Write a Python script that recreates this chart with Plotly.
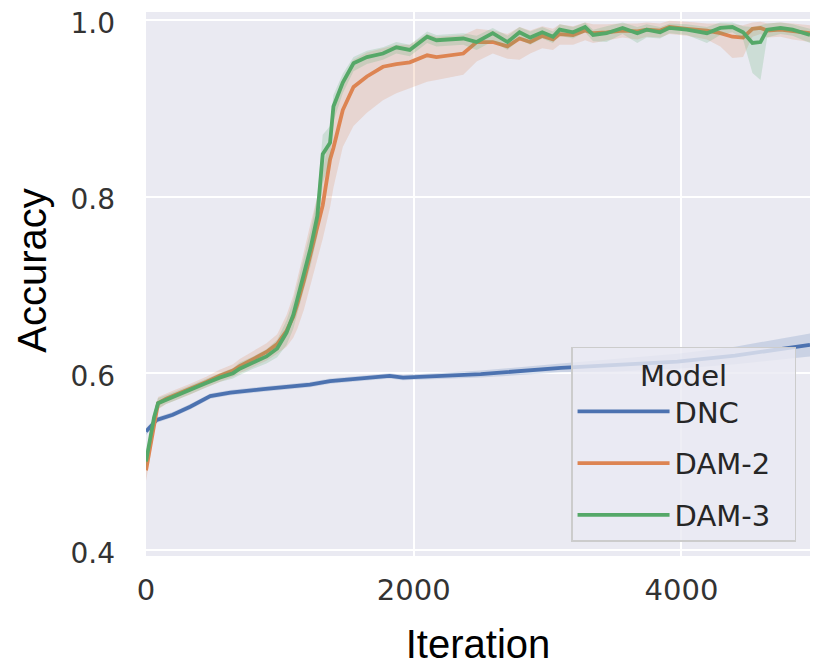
import plotly.graph_objects as go

# DNC
dnc_iter = [0, 80, 200, 330, 480, 630, 875, 1225, 1375, 1750, 1820, 1920, 2500, 3100, 3500, 3970, 4400, 4830, 4960]
dnc_acc = [0.534, 0.547, 0.553, 0.562, 0.574, 0.578, 0.582, 0.587, 0.591, 0.596, 0.597, 0.595, 0.599, 0.606, 0.609, 0.613, 0.620, 0.629, 0.632]
dnc_lo = [0.530, 0.544, 0.550, 0.559, 0.571, 0.575, 0.579, 0.584, 0.588, 0.593, 0.594, 0.592, 0.595, 0.601, 0.602, 0.605, 0.610, 0.617, 0.619]
dnc_hi = [0.538, 0.550, 0.556, 0.565, 0.577, 0.581, 0.585, 0.590, 0.594, 0.599, 0.600, 0.598, 0.603, 0.611, 0.616, 0.622, 0.630, 0.641, 0.645]

# DAM-2 / DAM-3 share the iteration grid
dam_iter = [0, 30, 60, 90, 150, 200, 330, 450, 550, 650,
            700, 800, 900, 980, 1050, 1100, 1130, 1180, 1230, 1280,
            1320, 1375, 1400, 1470, 1550, 1650, 1770, 1870, 1970, 2100,
            2170, 2370, 2470, 2590, 2700, 2790, 2870, 2960, 3040, 3090,
            3190, 3280, 3340, 3440, 3560, 3670, 3740, 3840, 3910, 4040,
            4190, 4290, 4380, 4460, 4530, 4590, 4640, 4740, 4830, 4960]

dam2_acc = [0.490, 0.515, 0.545, 0.566, 0.571, 0.574, 0.582, 0.590, 0.597, 0.603,
            0.608, 0.616, 0.624, 0.633, 0.648, 0.664, 0.678, 0.705, 0.735, 0.765,
            0.790, 0.842, 0.855, 0.898, 0.924, 0.936, 0.947, 0.950, 0.952, 0.960,
            0.958, 0.962, 0.975, 0.975, 0.970, 0.979, 0.975, 0.982, 0.978, 0.984,
            0.983, 0.988, 0.985, 0.986, 0.988, 0.987, 0.989, 0.988, 0.992, 0.990,
            0.988, 0.985, 0.981, 0.980, 0.990, 0.991, 0.988, 0.989, 0.987, 0.985]
dam2_lo = [0.478, 0.503, 0.535, 0.559, 0.565, 0.568, 0.576, 0.584, 0.590, 0.596,
           0.600, 0.607, 0.614, 0.622, 0.630, 0.640, 0.650, 0.672, 0.700, 0.730,
           0.752, 0.788, 0.810, 0.856, 0.880, 0.895, 0.909, 0.917, 0.923, 0.930,
           0.932, 0.938, 0.953, 0.962, 0.956, 0.955, 0.962, 0.968, 0.966, 0.972,
           0.972, 0.977, 0.974, 0.977, 0.980, 0.978, 0.981, 0.980, 0.984, 0.982,
           0.978, 0.970, 0.957, 0.958, 0.981, 0.984, 0.980, 0.981, 0.978, 0.975]
dam2_hi = [0.500, 0.527, 0.555, 0.573, 0.577, 0.580, 0.588, 0.596, 0.604, 0.610,
           0.616, 0.625, 0.634, 0.644, 0.666, 0.688, 0.706, 0.738, 0.770, 0.800,
           0.828, 0.872, 0.895, 0.930, 0.955, 0.963, 0.968, 0.972, 0.972, 0.984,
           0.981, 0.983, 0.990, 0.988, 0.984, 0.992, 0.988, 0.993, 0.990, 0.995,
           0.993, 0.997, 0.995, 0.995, 0.996, 0.996, 0.997, 0.996, 0.999, 0.998,
           0.996, 0.996, 0.995, 0.994, 0.997, 0.998, 0.996, 0.997, 0.996, 0.994]

dam3_acc = [0.500, 0.525, 0.550, 0.566, 0.570, 0.573, 0.581, 0.589, 0.595, 0.600,
            0.605, 0.612, 0.619, 0.628, 0.646, 0.666, 0.684, 0.712, 0.742, 0.778,
            0.848, 0.861, 0.902, 0.929, 0.951, 0.958, 0.962, 0.969, 0.966, 0.981,
            0.977, 0.979, 0.975, 0.985, 0.975, 0.986, 0.980, 0.986, 0.981, 0.989,
            0.986, 0.992, 0.983, 0.985, 0.991, 0.985, 0.989, 0.986, 0.991, 0.989,
            0.985, 0.991, 0.992, 0.986, 0.974, 0.975, 0.989, 0.991, 0.989, 0.983]
dam3_lo = [0.490, 0.515, 0.542, 0.560, 0.565, 0.568, 0.576, 0.584, 0.590, 0.594,
           0.598, 0.605, 0.611, 0.618, 0.632, 0.650, 0.668, 0.695, 0.722, 0.755,
           0.815, 0.840, 0.885, 0.917, 0.942, 0.950, 0.955, 0.962, 0.959, 0.974,
           0.970, 0.972, 0.966, 0.976, 0.966, 0.978, 0.972, 0.979, 0.974, 0.982,
           0.979, 0.986, 0.976, 0.975, 0.984, 0.974, 0.980, 0.979, 0.985, 0.983,
           0.974, 0.983, 0.986, 0.978, 0.940, 0.932, 0.980, 0.984, 0.982, 0.974]
dam3_hi = [0.510, 0.535, 0.557, 0.572, 0.575, 0.578, 0.586, 0.594, 0.600, 0.606,
           0.612, 0.619, 0.627, 0.638, 0.660, 0.682, 0.700, 0.729, 0.762, 0.800,
           0.870, 0.880, 0.915, 0.939, 0.958, 0.965, 0.969, 0.975, 0.972, 0.987,
           0.983, 0.985, 0.982, 0.991, 0.982, 0.992, 0.987, 0.992, 0.987, 0.995,
           0.992, 0.997, 0.989, 0.993, 0.997, 0.992, 0.995, 0.992, 0.996, 0.995,
           0.992, 0.997, 0.997, 0.993, 0.992, 0.994, 0.996, 0.997, 0.995, 0.990]

x_ticks = [0, 2000, 4000]
y_ticks = [0.4, 0.6, 0.8, 1.0]

models = [
    ('DNC', dnc_iter, dnc_acc, dnc_lo, dnc_hi, '#4C72B0', 'rgba(76,114,176,0.2)'),
    ('DAM-2', dam_iter, dam2_acc, dam2_lo, dam2_hi, '#DD8452', 'rgba(221,132,82,0.2)'),
    ('DAM-3', dam_iter, dam3_acc, dam3_lo, dam3_hi, '#55A868', 'rgba(85,168,104,0.2)'),
]

fig = go.Figure()
for name, xs, mean, lo, hi, col, band in models:
    fig.add_trace(go.Scatter(x=xs, y=lo, mode='lines', line=dict(width=0),
                             showlegend=False, hoverinfo='skip'))
    fig.add_trace(go.Scatter(x=xs, y=hi, mode='lines', line=dict(width=0),
                             fill='tonexty', fillcolor=band,
                             showlegend=False, hoverinfo='skip'))
    # trailing spaces give the legend box its right padding
    fig.add_trace(go.Scatter(x=xs, y=mean, mode='lines', name=name + '\u00a0\u00a0',
                             legendgroup=name, line=dict(color=col, width=3.8)))

tick_font = dict(family='DejaVu Sans', size=29, color='#333333')
fig.update_xaxes(range=[0, 4960], tickvals=x_ticks, ticktext=[str(v) for v in x_ticks],
                 showgrid=True, gridcolor='white', gridwidth=2, zeroline=False,
                 showline=False, ticks='', tickfont=tick_font, ticklabelstandoff=14,
                 ticklabeloverflow='allow',
                 title=dict(text='Iteration', font=dict(family='Liberation Sans', size=40, color='black'),
                            standoff=36))
fig.update_yaxes(range=[0.393, 1.009], tickvals=y_ticks, ticktext=['0.4', '0.6', '0.8', '1.0'],
                 showgrid=True, gridcolor='white', gridwidth=2, zeroline=False,
                 showline=False, ticks='', tickfont=dict(tick_font, size=28), ticklabelstandoff=30,
                 ticklabelshift=3, ticklabeloverflow='allow')

fig.add_annotation(text='Accuracy', xref='paper', yref='paper', x=-0.172, y=0.526,
                   xanchor='center', yanchor='middle',
                   textangle=-90, showarrow=False,
                   font=dict(family='Liberation Sans', size=40, color='black'))

# the page body adds 8px on the left and top, so the figure is 8px smaller
fig.update_layout(
    width=822, height=658,
    margin=dict(l=138, r=20, t=4, b=110, autoexpand=False),
    plot_bgcolor='#EAEAF2', paper_bgcolor='white',
    showlegend=True,
    legend=dict(x=0.979, y=0.026, xanchor='right', yanchor='bottom',
                bgcolor='rgba(234,234,242,0.8)', bordercolor='#cccccc', borderwidth=1.5,
                font=dict(family='DejaVu Sans', size=29, color='#262626'),
                title=dict(text='Model', side='top center',
                           font=dict(family='DejaVu Sans', size=29, color='#262626')),
                traceorder='grouped', tracegroupgap=11, itemwidth=92),
)

fig.write_html("out.html")
